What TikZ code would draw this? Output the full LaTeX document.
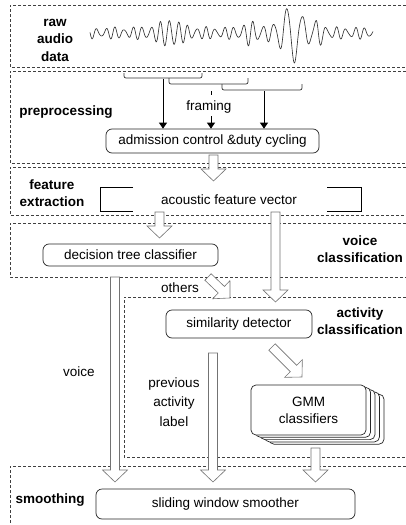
\documentclass[tikz,border=0pt]{standalone}
\usepackage{fontspec}
\setmainfont{Liberation Sans}
\usetikzlibrary{calc,arrows.meta}
\newcommand\hollowarrow[2]{%
  \path let \p1=(#1), \p2=(#2) in \pgfextra{%
    \pgfmathsetmacro\harangtmp{atan2(\y2-\y1,\x2-\x1)}%
    \pgfmathsetmacro\harlentmp{veclen(\x2-\x1,\y2-\y1)}%
    \xdef\harang{\harangtmp}\xdef\harlen{\harlentmp}};
  \begin{scope}[shift={(#1)}, rotate=\harang]
    \draw[hollowarr] (0pt,-4.5pt) -- ({\harlen pt-12pt},-4.5pt) -- ({\harlen pt-12pt},-12.5pt)
      -- ({\harlen pt},0pt) -- ({\harlen pt-12pt},12.5pt) -- ({\harlen pt-12pt},4.5pt) -- (0pt,4.5pt) -- cycle;
  \end{scope}}
\begin{document}
\begin{tikzpicture}[x=1pt,y=-1pt,
  font=\fontsize{13.5}{17}\selectfont,
  panel/.style={draw=black!75, dash pattern=on 3pt off 2pt, line width=0.6pt},
  procbox/.style={draw=black!85, rounded corners=6pt, line width=0.7pt, fill=white, align=center, inner sep=0pt},
  lbl/.style={font=\fontsize{13.5}{17.5}\selectfont\bfseries, align=center},
  txt/.style={align=center},
  hollowarr/.style={draw=black!55, fill=white, line width=0.6pt},
  brk/.style={draw=black!80, line width=0.7pt, rounded corners=2pt},
  thinarr/.style={draw=black, line width=1pt, -{Triangle[width=8pt,length=6pt]}},
  fvbrk/.style={draw=black, line width=1pt},
  declare function={bmp(\u)=1/(1+\u*\u)/(1+\u*\u);}]
\useasboundingbox (0,0) rectangle (406,525);
% panels
\draw[panel] (406,5) -- (10,5) -- (10,67) -- (406,67);
\draw[panel] (406,71) -- (10,71) -- (10,163) -- (406,163);
\draw[panel] (406,167) -- (10,167) -- (10,215) -- (406,215);
\draw[panel] (406,223) -- (10,223) -- (10,277) -- (406,277);
\draw[panel] (406,297) -- (124,297) -- (124,457) -- (406,457);
\draw[panel] (406,466) -- (10,466) -- (10,525);
% labels
\node[lbl] (rawlbl) at (55,40) {raw\\audio\\data};
\node[lbl] (prelbl) at (66,112) {preprocessing};
\node[lbl] (featlbl) at (52,193) {feature\\extraction};
\node[lbl] (voicelbl) at (360,249) {voice\\classification};
\node[lbl] (actlbl) at (360,321) {activity\\classification};
\node[lbl] (smolbl) at (50,500) {smoothing};
% waveform
\draw[line width=0.65pt, black!80] plot[domain=90:373, samples=600]
  (\x, {33 - (4.5 + 9*bmp((\x-170)/18) + 7*bmp((\x-250)/9) + 25*bmp((\x-292)/16) + 8*bmp((\x-318)/5))
        * sin(40*(\x-90) - 6.3*atan((\x-295)/20)) + 1.6*sin(55*(\x-90))});
% framing brackets
\draw[brk] (124,73) -- (124,78) -- (202,78) -- (202,73);
\draw[brk] (169,78) -- (169,84) -- (248,84) -- (248,78);
\draw[brk] (222,84) -- (222,90) -- (302,90) -- (302,84);
% admission box
\node[procbox, minimum width=213pt, minimum height=24pt] (adm) at (212.5,141) {admission control \&duty cycling};
\node[txt] (framing) at (209,107) {framing};
\coordinate (f1s) at (163,79);
\coordinate (f2a) at (211,91);
\coordinate (f2b) at (211,95);
\coordinate (f2s) at (211,116);
\coordinate (f3s) at (264,91);
\draw[thinarr] (f1s) -- (f1s |- adm.north);
\draw[draw=black, line width=1pt] (f2a) -- (f2b);
\draw[thinarr] (f2s) -- (f2s |- adm.north);
\draw[thinarr] (f3s) -- (f3s |- adm.north);
% feature vector
\node[txt] (afv) at (229,200) {acoustic feature vector};
\draw[fvbrk] (133,187) -- (100,187) -- (100,211) -- (133,211);
\draw[fvbrk] (327,187) -- (361,187) -- (361,211) -- (327,211);
\coordinate (h1s) at (213.5,155);
\coordinate (h1e) at (213.5,181);
\hollowarrow{h1s}{h1e}
% decision tree
\node[procbox, minimum width=175pt, minimum height=22pt] (dtc) at (130.5,255) {decision tree classifier};
\coordinate (h2s) at (159.5,212);
\coordinate (h2e) at (159.5,238);
\hollowarrow{h2s}{h2e}
% similarity detector
\node[procbox, minimum width=146pt, minimum height=28pt] (sim) at (239,324) {similarity detector};
\coordinate (h3s) at (275.5,212);
\coordinate (h3e) at (275.5,302);
\hollowarrow{h3s}{h3e}
\node[txt] (others) at (180,288) {others};
\coordinate (h4s) at (208,277);
\coordinate (h4e) at (230,298);
\hollowarrow{h4s}{h4e}
% GMM stack
\foreach \k in {4,3,2,1} {
  \draw[draw=black!85, fill=white, rounded corners=5pt, line width=0.7pt]
    ($(251,385)+(4.5*\k,2.3*\k)$) rectangle ($(366,435)+(4.5*\k,2.3*\k)$);
}
\node[procbox, minimum width=115pt, minimum height=50pt, rounded corners=5pt] (gmm) at (308.5,410) {GMM\\classifiers};
\coordinate (h5s) at (272,347);
\coordinate (h5e) at (302,377);
\hollowarrow{h5s}{h5e}
% smoother
\node[procbox, minimum width=259pt, minimum height=30pt] (smo) at (225.5,504) {sliding window smoother};
\coordinate (h6s) at (115,277);
\coordinate (h6e) at (115,482);
\hollowarrow{h6s}{h6e}
\node[txt] (voice) at (79,372) {voice};
\coordinate (h7s) at (213,353);
\coordinate (h7e) at (213,482);
\hollowarrow{h7s}{h7e}
\node[txt, font=\fontsize{13.5}{19.5}\selectfont] (prev) at (174,402) {previous\\activity\\label};
\coordinate (h8s) at (315.5,448);
\coordinate (h8e) at (315.5,482);
\hollowarrow{h8s}{h8e}
\end{tikzpicture}
\end{document}
